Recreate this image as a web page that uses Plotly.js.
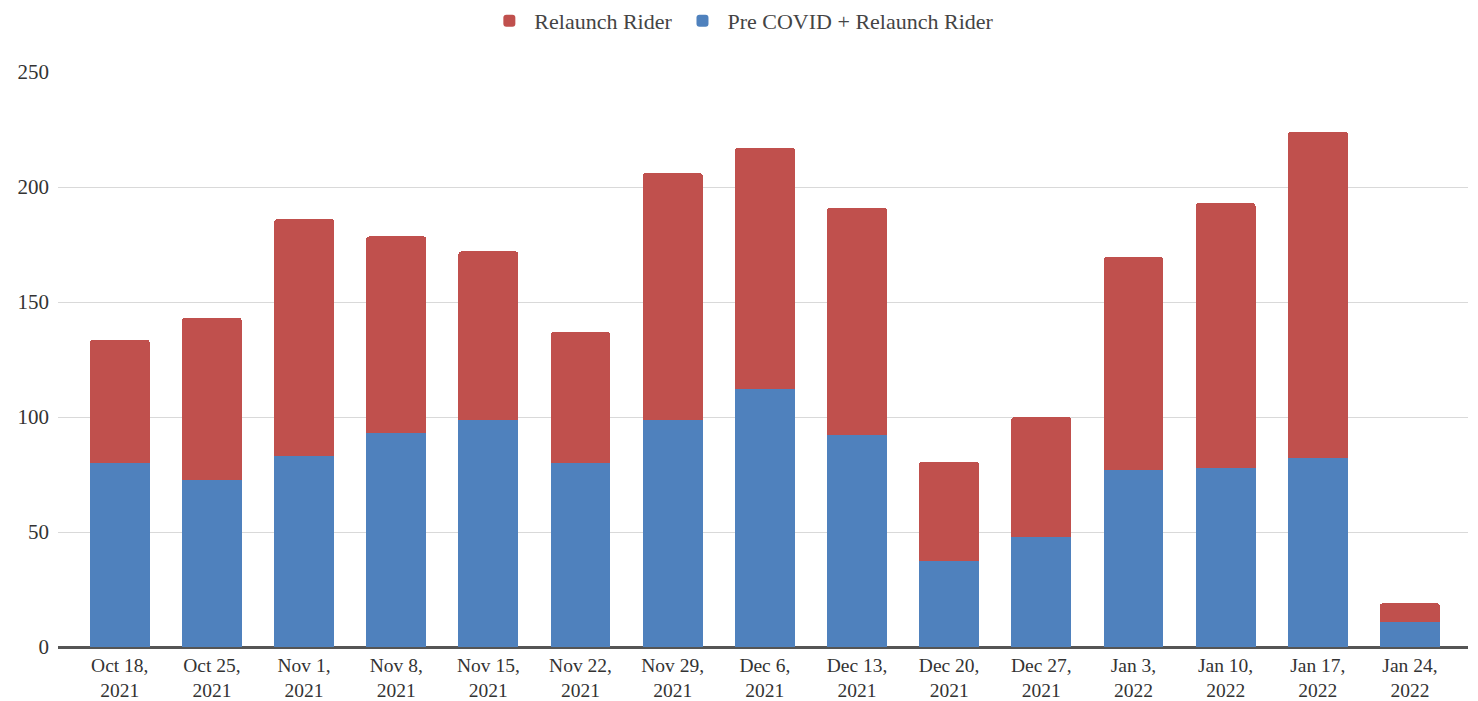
<!DOCTYPE html>
<html>
<head>
<meta charset="utf-8">
<script src="https://cdn.plot.ly/plotly-3.0.1.min.js"></script>
<style>html,body{margin:0;padding:0;background:#fff;}#chart{width:1478px;height:701px;}</style>
</head>
<body>
<div id="chart"></div>
<script>
const categories = ["Oct 18,<br>2021","Oct 25,<br>2021","Nov 1,<br>2021","Nov 8,<br>2021","Nov 15,<br>2021","Nov 22,<br>2021","Nov 29,<br>2021","Dec 6,<br>2021","Dec 13,<br>2021","Dec 20,<br>2021","Dec 27,<br>2021","Jan 3,<br>2022","Jan 10,<br>2022","Jan 17,<br>2022","Jan 24,<br>2022"];
const preCovidRelaunch = [80, 72.5, 83, 93, 98.5, 80, 98.5, 112, 92, 37.5, 48, 77, 78, 82, 11];
const relaunchOnly = [53.5, 70.5, 103, 85.5, 73.5, 57, 107.5, 105, 99, 43, 52, 92.5, 115, 142, 8];

const traces = [
  {type:'bar', name:'Pre COVID + Relaunch Rider', x:categories, y:preCovidRelaunch, marker:{color:'#4f81bd'}},
  {type:'bar', name:'Relaunch Rider', x:categories, y:relaunchOnly, marker:{color:'#c0504d'}}
];
const SERIF = "'Liberation Serif', 'DejaVu Serif', serif";
const layout = {
  width:1478, height:701,
  barmode:'stack', bargap:0.35, barcornerradius:3,
  paper_bgcolor:'#fff', plot_bgcolor:'#fff',
  font:{family:SERIF, size:20, color:'#333'},
  margin:{l:58, r:10, t:72, b:54},
  showlegend:true,
  legend:{orientation:'h', x:0.485, xanchor:'center', y:1.0, yref:'container', yanchor:'top', traceorder:'reversed', itemwidth:40, font:{family:SERIF, size:22, color:'#444'}},
  xaxis:{type:'category', range:[-0.67, 14.63], showgrid:false, ticks:'', tickfont:{family:SERIF, size:19.5, color:'#333'}, showline:true, linecolor:'#555', linewidth:1.5, ticklabelstandoff:0},
  yaxis:{range:[0,250], dtick:50, showgrid:true, gridcolor:'#d9d9d9', gridwidth:1, zeroline:true, zerolinecolor:'#555', zerolinewidth:1.5, ticks:'', tickfont:{family:SERIF, size:21, color:'#333'}, ticklabelstandoff:8}
};
Plotly.newPlot('chart', traces, layout, {displayModeBar:false, staticPlot:true});
</script>
</body>
</html>
